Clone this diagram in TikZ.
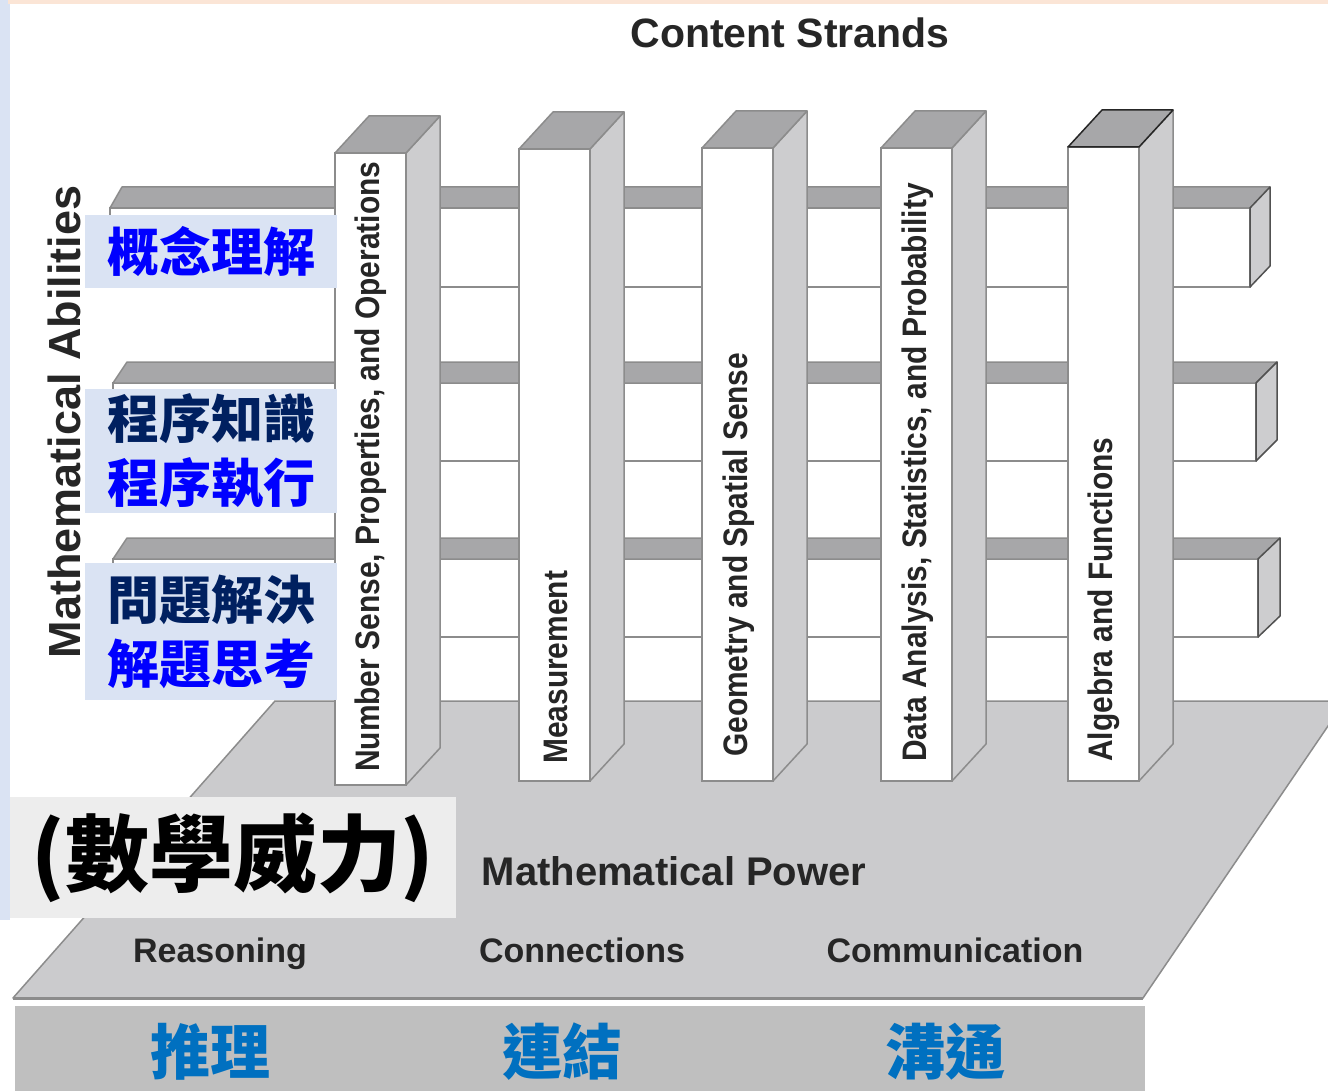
\documentclass[tikz,border=0pt]{standalone}
\usepackage{fontspec}
\setmainfont{Liberation Sans}
\newfontfamily\cjk{Noto Sans CJK TC}
\newfontfamily\narrowsf[FakeStretch=0.88]{Liberation Sans}
\definecolor{peach}{HTML}{FBE5D6}
\definecolor{paleblue}{HTML}{DAE3F3}
\definecolor{navy}{HTML}{002060}
\definecolor{brightblue}{HTML}{0000FF}
\definecolor{midblue}{HTML}{0070C0}
\definecolor{floorgray}{HTML}{CBCBCD}
\definecolor{bandgray}{HTML}{A7A7A9}
\definecolor{sidegray}{HTML}{CDCDCF}
\definecolor{edgegray}{HTML}{8C8C8C}
\definecolor{inkgray}{HTML}{262626}
\definecolor{powerbox}{HTML}{EDEDED}
\definecolor{bandbox}{HTML}{BFBFBF}

\begin{document}
\begin{tikzpicture}[x=1pt, y=-1pt,
  pfront/.style={fill=white, draw=edgegray, line width=1.5pt},
  pside/.style={fill=sidegray, draw=edgegray, line width=1.5pt, line join=round},
  ptop/.style={fill=bandgray, draw=edgegray, line width=1.5pt, line join=round},
  bfront/.style={fill=white, draw=edgegray, line width=1.5pt},
  bband/.style={fill=bandgray, draw=edgegray, line width=1.5pt, line join=round},
  bcap/.style={fill=sidegray, draw=inkgray!80, line width=1.5pt, line join=round},
  strand/.style={rotate=90, anchor=west, inner sep=0pt, text=inkgray, font=\narrowsf\bfseries\fontsize{34}{34}\selectfont},
  ability/.style={fill=paleblue, minimum width=252pt, inner sep=0pt, align=center, font=\cjk\bfseries\fontsize{52}{64}\selectfont},
  power/.style={inner sep=0pt, anchor=base, text=inkgray, font=\bfseries\fontsize{34}{34}\selectfont},
  zhpower/.style={inner sep=0pt, text=midblue, font=\cjk\bfseries\fontsize{60}{60}\selectfont}]
\useasboundingbox (0,0) rectangle (1328,1091);
\fill[white] (0,0) rectangle (1328,1091);
\fill[paleblue] (0,0) rectangle (10,920);
\fill[peach] (8,0) rectangle (1328,4);

% floor
\begin{scope}
\clip (0,0) rectangle (1328,1091);
\draw[fill=floorgray, draw=edgegray, line width=1.5pt, line join=round] (275,701) -- (1345,701) -- (1143,998) -- (13,998) -- cycle;
\draw[edgegray, line width=3pt] (13,998) -- (1143,998);
\end{scope}

% bars
\draw[bfront] (110,208) rectangle (1250,287);
\draw[bband] (110,208) -- (122,187) -- (1270,187) -- (1250,208) -- cycle;
\draw[bcap] (1250,208) -- (1270,187) -- (1270,266) -- (1250,287) -- cycle;
\draw[bfront] (113,383) rectangle (1256,461);
\draw[bband] (113,383) -- (127,362) -- (1277,362) -- (1256,383) -- cycle;
\draw[bcap] (1256,383) -- (1277,362) -- (1277,440) -- (1256,461) -- cycle;
\draw[bfront] (113,559) rectangle (1258,637);
\draw[bband] (113,559) -- (127,538) -- (1280,538) -- (1258,559) -- cycle;
\draw[bcap] (1258,559) -- (1280,538) -- (1280,616) -- (1258,637) -- cycle;

% pillars
\draw[pfront] (335,153) rectangle (406,785);
\draw[pside] (406,153) -- ++(34,-37) -- ++(0,632) -- ++(-34,37) -- cycle;
\draw[ptop] (335,153) -- ++(34,-37) -- ++(71,0) -- ++(-34,37) -- cycle;
\draw[pfront] (519,149) rectangle (590,781);
\draw[pside] (590,149) -- ++(34,-37) -- ++(0,632) -- ++(-34,37) -- cycle;
\draw[ptop] (519,149) -- ++(34,-37) -- ++(71,0) -- ++(-34,37) -- cycle;
\draw[pfront] (702,148) rectangle (773,781);
\draw[pside] (773,148) -- ++(34,-37) -- ++(0,633) -- ++(-34,37) -- cycle;
\draw[ptop] (702,148) -- ++(34,-37) -- ++(71,0) -- ++(-34,37) -- cycle;
\draw[pfront] (881,148) rectangle (952,781);
\draw[pside] (952,148) -- ++(34,-37) -- ++(0,633) -- ++(-34,37) -- cycle;
\draw[ptop] (881,148) -- ++(34,-37) -- ++(71,0) -- ++(-34,37) -- cycle;
\draw[pfront] (1068,147) rectangle (1139,781);
\draw[pside] (1139,147) -- ++(34,-37) -- ++(0,634) -- ++(-34,37) -- cycle;
\draw[ptop, draw=inkgray] (1068,147) -- ++(34,-37) -- ++(71,0) -- ++(-34,37) -- cycle;

% strand labels
\node (ns)[strand] at (371,772) {Number Sense, Properties, and Operations};
\node (ms)[strand] at (556,764) {Measurement};
\node (gs)[strand] at (739,757) {Geometry and Spatial Sense};
\node (da)[strand] at (918,762) {Data Analysis, Statistics, and Probability};
\node (af)[strand] at (1104,762) {Algebra and Functions};

% titles
\node (cs)[power, font=\bfseries\fontsize{41}{41}\selectfont] at (790,48) {Content Strands};
\node (ma)[power, anchor=center, rotate=90, font=\bfseries\fontsize{45}{45}\selectfont] at (64,422) {Mathematical Abilities};
\node (mp)[power, font=\bfseries\fontsize{40}{40}\selectfont] at (674,885) {Mathematical Power};

% abilities
\node (a1)[ability, minimum height=73pt] at (211,251.5) {\textcolor{brightblue}{概念理解}};
\node (a2)[ability, minimum height=124pt] at (211,451) {\textcolor{navy}{程序知識}\\\textcolor{brightblue}{程序執行}};
\node (a3)[ability, minimum height=137pt] at (211,631.5) {\textcolor{navy}{問題解決}\\\textcolor{brightblue}{解題思考}};

% power
\node (zp)[fill=powerbox, minimum width=446pt, minimum height=121pt, inner sep=0pt, font=\cjk\bfseries\fontsize{84}{84}\selectfont] at (233,857.5) {(數學威力)};
\node (re)[power] at (220,962) {Reasoning};
\node (co)[power] at (582,962) {Connections};
\node (cm)[power] at (955,962) {Communication};
\fill[bandbox] (15,1006) rectangle (1145,1091);
\node (zre)[zhpower] at (210,1052) {推理};
\node (zco)[zhpower] at (562,1052) {連結};
\node (zcm)[zhpower] at (945,1052) {溝通};
\end{tikzpicture}
\end{document}
